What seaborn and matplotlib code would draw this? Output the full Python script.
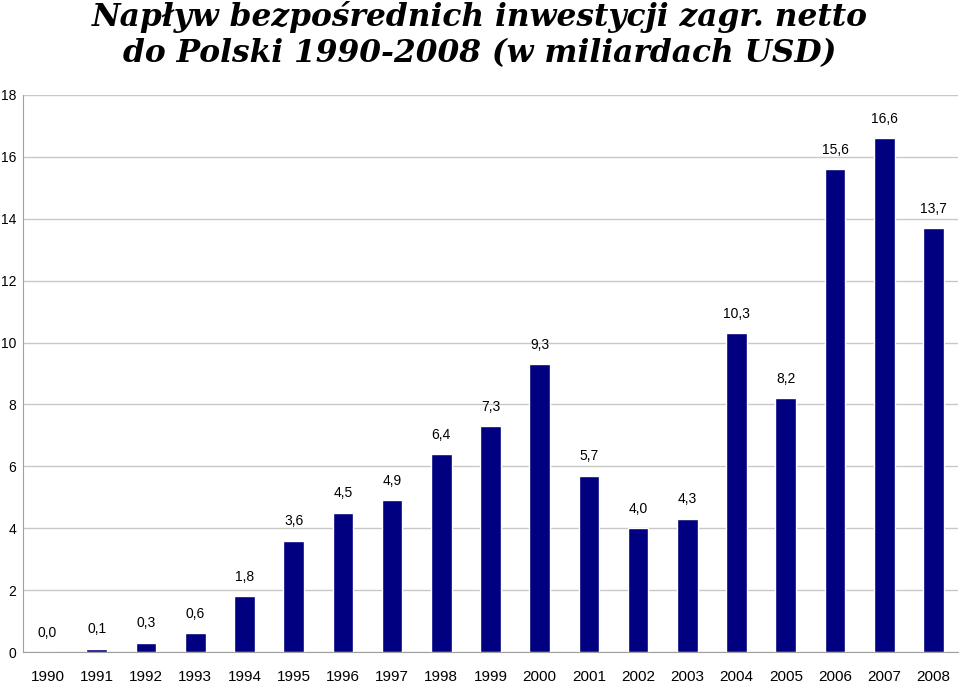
import matplotlib
matplotlib.use("Agg")
import matplotlib.pyplot as plt
import seaborn as sns
import pandas as pd
import numpy as np

years = ["1990", "1991", "1992", "1993", "1994", "1995", "1996", "1997", "1998", "1999",
         "2000", "2001", "2002", "2003", "2004", "2005", "2006", "2007", "2008"]
values = [0.0, 0.1, 0.3, 0.6, 1.8, 3.6, 4.5, 4.9, 6.4, 7.3,
          9.3, 5.7, 4.0, 4.3, 10.3, 8.2, 15.6, 16.6, 13.7]
y_ticks = [0, 2, 4, 6, 8, 10, 12, 14, 16, 18]
title_lines = ["Napływ bezpośrednich inwestycji zagr. netto",
               "do Polski 1990-2008 (w miliardach USD)"]

sns.set_style("white")
narrow = ["Liberation Sans Narrow", "Liberation Sans", "DejaVu Sans"]
plt.rcParams["font.family"] = narrow
plt.rcParams["text.color"] = "black"
plt.rcParams["xtick.labelcolor"] = "black"
plt.rcParams["ytick.labelcolor"] = "black"

df = pd.DataFrame({"year": years, "value": values})

fig = plt.figure(figsize=(9.6, 6.84), dpi=100)
ax = fig.add_axes([23/960, 32/684, 935/960, 557/684])

sns.barplot(data=df, x="year", y="value", color="#000080", saturation=1,
            width=0.42, ax=ax, zorder=3)

ax.set_ylim(0, 18)
ax.set_xlim(-0.5, len(years) - 0.5)
ax.set_yticks(y_ticks)
ax.set_yticklabels([str(t) for t in y_ticks], fontsize=10)
ax.yaxis.grid(True, color="#c8c8c8", linewidth=1, zorder=0)
ax.set_axisbelow(True)
ax.set_xlabel("")
ax.set_ylabel("")

# category tick marks between bars
ax.set_xticks(range(len(years)))
ax.set_xticklabels(years, fontsize=11)
ax.tick_params(axis="x", which="major", length=0, pad=13, labelcolor="black")
ax.set_xticks([i + 0.5 for i in range(-1, len(years))], minor=True)
ax.tick_params(axis="x", which="minor", length=5, color="#a0a0a0", width=1)
ax.tick_params(axis="y", length=3, color="#a0a0a0", width=1, pad=2, labelcolor="black")

for s in ["top", "right"]:
    ax.spines[s].set_visible(False)
ax.spines["left"].set_color("#a0a0a0")
ax.spines["bottom"].set_color("#a0a0a0")

for i, v in enumerate(values):
    ax.annotate(f"{v:.1f}".replace(".", ","), (i, v), xytext=(0, 14),
                textcoords="offset points", ha="center", va="center",
                fontsize=10, color="black")

fig.text(0.5, 1 - 17/684, title_lines[0], ha="center", va="center",
         fontsize=22.5, fontweight="bold", fontstyle="italic",
         family=["DejaVu Serif"], color="black")
fig.text(0.5, 1 - 54/684, title_lines[1], ha="center", va="center",
         fontsize=22.5, fontweight="bold", fontstyle="italic",
         family=["DejaVu Serif"], color="black")

fig.savefig("out.png", dpi=100)
